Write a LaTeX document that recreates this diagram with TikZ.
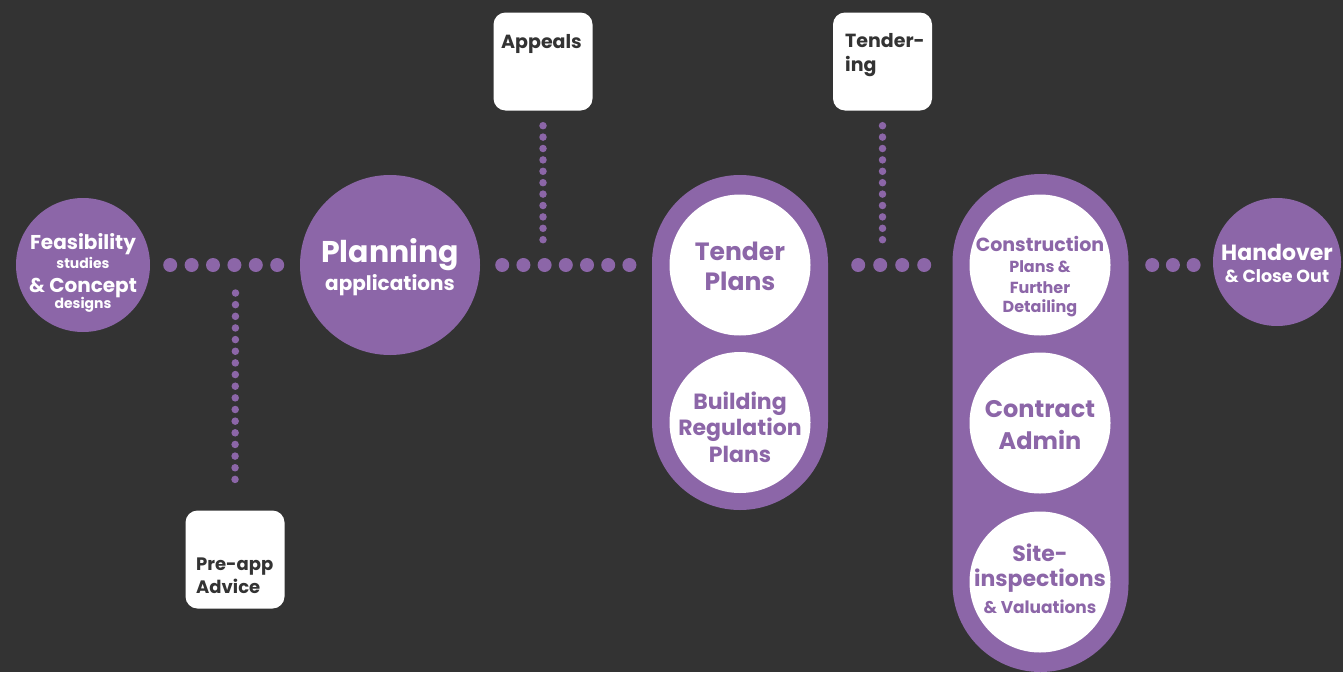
\documentclass[tikz,border=0pt]{standalone}
\usepackage{fontspec}
\setmainfont{Poppins}
\definecolor{bg}{HTML}{333333}
\definecolor{plum}{HTML}{8C66A8}
\definecolor{ink}{HTML}{333333}
\newcommand\fs[1]{\fontsize{#1}{#1}\selectfont\bfseries}

\begin{document}
\begin{tikzpicture}[x=1pt,y=-1pt,
  stage/.style={circle, fill=plum, inner sep=0pt, minimum size=#1},
  inner/.style={circle, fill=white, inner sep=0pt, minimum size=141pt},
  capsule/.style={rectangle, rounded corners=88pt, fill=plum, inner sep=0pt,
                  minimum width=176pt, minimum height=#1},
  note/.style={rectangle, rounded corners=12pt, fill=white, inner sep=0pt,
               minimum width=99pt, minimum height=98pt},
  bigdots/.style={draw=plum, line width=14pt, line cap=round, dash pattern=on 0pt off #1},
  smalldots/.style={draw=plum, line width=7.5pt, line cap=round, dash pattern=on 0pt off #1},
  wtxt/.style={text=white, anchor=base, inner sep=0pt, font=\fs{#1}},
  ptxt/.style={text=plum, anchor=base, inner sep=0pt, font=\fs{#1}},
  dtxt/.style={text=ink, anchor=base west, inner sep=0pt, font=\fs{#1}}]

\fill[bg] (0,0) rectangle (1343,672);
\useasboundingbox (0,0) rectangle (1343,672);

% stages on the main line
\node[stage=134pt] (feas) at (83,265) {};
\node[stage=180pt] (plan) at (390,265) {};
\node[capsule=335pt] (tcap) at (740,342.5) {};
\node[inner] (tender) at (740,265) {};
\node[inner] (breg) at (740,422.5) {};
\node[capsule=498pt] (ccap) at (1040.5,423) {};
\node[inner] (constr) at (1040,265) {};
\node[inner] (contract) at (1040,423) {};
\node[inner] (site) at (1040,582) {};
\node[stage=128pt] (hand) at (1277,262) {};

% side notes
\node[note] (appeals) at (543,61.5) {};
\node[note] (tendering) at (882.5,61.5) {};
\node[note] (preapp) at (235,559.5) {};

\coordinate (appealsfoot) at (543,240.5);
\coordinate (tenderingfoot) at (882.5,240.5);
\coordinate (preapphead) at (235.5,293);

% dotted connectors along the main line
\draw[bigdots=21.4pt] ([xshift=20pt]feas.east) -- ([xshift=-22pt]plan.west);
\draw[bigdots=21.2pt] ([xshift=22pt]plan.east) -- ([xshift=-22pt]tcap.west |- plan.east);
\draw[bigdots=22pt] ([xshift=30pt]tcap.east |- tender.east) -- ([xshift=-28pt]ccap.west |- constr.west);
\draw[bigdots=20.7pt] ([xshift=23.5pt]ccap.east |- constr.east) -- ([xshift=-19pt]hand.west |- constr.east);
% dotted branches to the side notes
\draw[smalldots=11.4pt] ([yshift=-15pt]appeals.south) -- (appealsfoot);
\draw[smalldots=11.4pt] ([yshift=-15pt]tendering.south) -- (tenderingfoot);
\draw[smalldots=11.65pt] (preapphead) -- ([yshift=19.5pt]preapp.north);

% labels
\node[wtxt=20] (feas1) at (83,249) {Feasibility};
\node[wtxt=14] (feas2) at (83,268) {studies};
\node[wtxt=20] (feas3) at (83,292) {\& Concept};
\node[wtxt=14] (feas4) at (83,308) {designs};

\node[wtxt=30] (plan1) at (390,262) {Planning};
\node[wtxt=20] (plan2) at (390,290) {applications};

\node[ptxt=25] (tender1) at (740,260) {Tender};
\node[ptxt=25] (tender2) at (740,290) {Plans};

\node[ptxt=22] (breg1) at (740,409) {Building};
\node[ptxt=22] (breg2) at (740,435) {Regulation};
\node[ptxt=22] (breg3) at (740,462) {Plans};

\node[ptxt=19] (constr1) at (1040,251) {Construction};
\node[ptxt=16] (constr2) at (1040,272) {Plans \&};
\node[ptxt=16] (constr3) at (1040,293) {Further};
\node[ptxt=16] (constr4) at (1040,312) {Detailing};

\node[ptxt=24] (contract1) at (1040,417) {Contract};
\node[ptxt=24] (contract2) at (1040,449) {Admin};

\node[ptxt=22] (site1) at (1040,561) {Site-};
\node[ptxt=22] (site2) at (1040,586) {inspections};
\node[ptxt=17] (site3) at (1040,613) {\& Valuations};

\node[wtxt=22] (hand1) at (1277,260) {Handover};
\node[wtxt=17.5] (hand2) at (1277,282) {\& Close Out};

\node[dtxt=19] (appeals1) at (501,48) {Appeals};
\node[dtxt=19] (tendering1) at (845,47) {Tender-};
\node[dtxt=19] (tendering2) at (845,71) {ing};
\node[dtxt=18] (preapp1) at (196,570) {Pre-app};
\node[dtxt=18] (preapp2) at (196,593) {Advice};
\end{tikzpicture}
\end{document}
